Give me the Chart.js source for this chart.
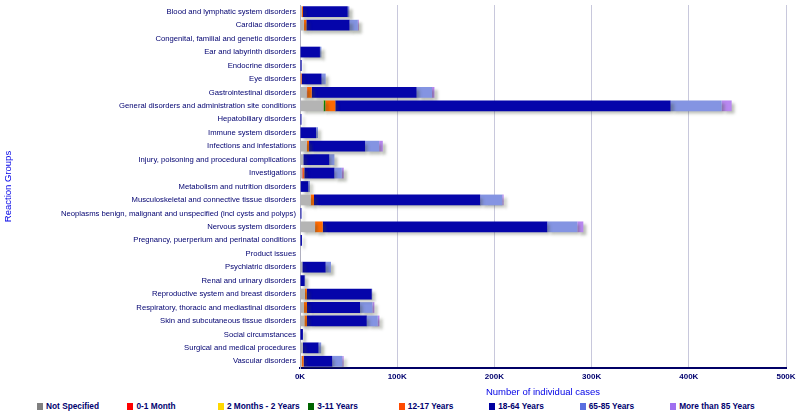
<!DOCTYPE html>
<html>
<head>
<meta charset="utf-8">
<script src="https://cdn.jsdelivr.net/npm/chart.js@4/dist/chart.umd.min.js"></script>
<style>
  body { margin: 0; background: #fff; }
  #wrap { position: absolute; left: 0; top: 0; width: 800px; height: 398px; }
  #legenda { position: absolute; left: 0; top: 401px; width: 800px; height: 16px; }
  .voce { position: absolute; top: 0; font: bold 8.3px "Liberation Sans", sans-serif; color: #00006e; white-space: nowrap; }
  .voce span { display: inline-block; width: 6px; height: 7px; margin-right: 3px; vertical-align: -1px; }
</style>
</head>
<body>
<div id="wrap"><canvas id="grafico"></canvas></div>
<div id="legenda"></div>
<script>
// categorie (reaction groups)
var categories = [
  'Blood and lymphatic system disorders',
  'Cardiac disorders',
  'Congenital, familial and genetic disorders',
  'Ear and labyrinth disorders',
  'Endocrine disorders',
  'Eye disorders',
  'Gastrointestinal disorders',
  'General disorders and administration site conditions',
  'Hepatobiliary disorders',
  'Immune system disorders',
  'Infections and infestations',
  'Injury, poisoning and procedural complications',
  'Investigations',
  'Metabolism and nutrition disorders',
  'Musculoskeletal and connective tissue disorders',
  'Neoplasms benign, malignant and unspecified (incl cysts and polyps)',
  'Nervous system disorders',
  'Pregnancy, puerperium and perinatal conditions',
  'Product issues',
  'Psychiatric disorders',
  'Renal and urinary disorders',
  'Reproductive system and breast disorders',
  'Respiratory, thoracic and mediastinal disorders',
  'Skin and subcutaneous tissue disorders',
  'Social circumstances',
  'Surgical and medical procedures',
  'Vascular disorders'
];

// valori (numero di casi)
var notSpecified = [1700, 4000, 0, 500, 0, 700, 6900, 24000, 0, 500, 6900, 3400, 2400, 700, 11000, 0, 15500, 0, 0, 2400, 500, 5100, 4100, 4500, 300, 3100, 1700];
var month0to1 = [0, 0, 0, 0, 0, 0, 500, 0, 0, 0, 0, 0, 800, 0, 0, 0, 0, 0, 0, 0, 0, 0, 0, 0, 0, 0, 0];
var months2to2y = [0, 0, 0, 0, 0, 0, 0, 300, 0, 0, 0, 0, 0, 0, 0, 0, 0, 0, 0, 0, 0, 0, 0, 0, 0, 0, 0];
var years3to11 = [0, 0, 0, 0, 0, 0, 0, 1700, 0, 0, 0, 0, 0, 0, 0, 0, 0, 0, 0, 0, 0, 0, 0, 0, 0, 0, 0];
var years12to17 = [1400, 2500, 0, 0, 0, 1000, 4600, 10300, 0, 0, 2400, 0, 1200, 0, 3400, 0, 7900, 0, 0, 0, 0, 2000, 3100, 2700, 0, 0, 2000];
var years18to64 = [46000, 44500, 0, 20000, 1700, 20500, 108000, 345000, 1500, 16000, 57700, 26800, 31000, 7800, 171000, 1500, 231000, 2000, 0, 24000, 4300, 66700, 54600, 61500, 2700, 16000, 29500];
var years65to85 = [1400, 8500, 0, 1500, 0, 4200, 15800, 52500, 0, 2000, 14400, 5200, 7600, 1700, 22700, 0, 30900, 0, 0, 5500, 500, 500, 12700, 11300, 0, 2700, 10300];
var over85 = [300, 1000, 0, 0, 0, 0, 2500, 10300, 0, 0, 3800, 0, 2000, 0, 1400, 0, 6200, 0, 0, 0, 0, 0, 2000, 1700, 0, 0, 1400];

var serieNomi = ['Not Specified', '0-1 Month', '2 Months - 2 Years', '3-11 Years', '12-17 Years', '18-64 Years', '65-85 Years', 'More than 85 Years'];
var serieDati = [notSpecified, month0to1, months2to2y, years3to11, years12to17, years18to64, years65to85, over85];
var serieColori = ['#b4b4b4', '#ff0000', '#ffd800', '#008a00', '#ff6a00', '#0505aa', '#8494e2', '#b888f0'];
var legendaColori = ['#808080', '#ff0000', '#ffd800', '#006400', '#ff4a00', '#0000a0', '#5a6ee0', '#a070f0'];

var xTicks = [0, 100000, 200000, 300000, 400000, 500000];

var datasets = [];
for (var i = 0; i < serieNomi.length; i++) {
  datasets.push({
    label: serieNomi[i],
    data: serieDati[i],
    backgroundColor: serieColori[i],
    borderWidth: 0,
    barPercentage: 0.8,
    categoryPercentage: 1
  });
}

// ombra leggera sotto le barre
var ombra = {
  id: 'ombra',
  beforeDatasetsDraw: function(chart) {
    var ctx = chart.ctx;
    ctx.save();
    ctx.shadowColor = 'rgba(60, 70, 50, 0.35)';
    ctx.shadowBlur = 3;
    ctx.shadowOffsetX = 3;
    ctx.shadowOffsetY = 3;
  },
  afterDatasetsDraw: function(chart) {
    chart.ctx.restore();
  }
};

var ctx = document.getElementById('grafico');
var chart = new Chart(ctx, {
  type: 'bar',
  data: {
    labels: categories,
    datasets: datasets
  },
  options: {
    indexAxis: 'y',
    responsive: true,
    maintainAspectRatio: false,
    animation: false,
    layout: { padding: { top: 5, right: 14, left: 0, bottom: 0 } },
    plugins: {
      legend: { display: false },
      tooltip: { enabled: false }
    },
    scales: {
      x: {
        stacked: true,
        min: 0,
        max: 500000,
        afterBuildTicks: function(scale) {
          scale.ticks = xTicks.map(function(v) { return { value: v }; });
        },
        afterFit: function(scale) { scale.height = 30; },
        grid: { color: '#c8c8dc', drawTicks: false },
        border: { color: '#000066', width: 2 },
        ticks: {
          padding: 4,
          color: '#00006e',
          font: { family: '"Liberation Sans", sans-serif', size: 8, weight: 'bold' },
          callback: function(v) { return (v / 1000) + 'K'; }
        },
        title: {
          display: true,
          text: 'Number of individual cases',
          color: '#0000e6',
          padding: { top: 0, bottom: 0 },
          font: { family: '"Liberation Sans", sans-serif', size: 9.5 }
        }
      },
      y: {
        stacked: true,
        afterFit: function(scale) {
          scale.width = 300;
          scale.paddingTop = 0;
          scale.paddingBottom = 0;
        },
        grid: { display: false, drawTicks: false },
        border: { color: '#b0b0c0', width: 1 },
        ticks: {
          padding: 4,
          autoSkip: false,
          color: '#000070',
          font: { family: '"Liberation Sans", sans-serif', size: 7.7 }
        },
        title: {
          display: true,
          text: 'Reaction Groups',
          color: '#0000e6',
          padding: { top: 3, bottom: 0 },
          font: { family: '"Liberation Sans", sans-serif', size: 9.5 }
        }
      }
    }
  },
  plugins: [ombra]
});

// legenda a passo fisso come nell'originale
var legenda = document.getElementById('legenda');
for (var j = 0; j < serieNomi.length; j++) {
  var voce = document.createElement('div');
  voce.className = 'voce';
  voce.style.left = (37 + j * 90.45) + 'px';
  voce.innerHTML = '<span style="background:' + legendaColori[j] + '"></span>' + serieNomi[j];
  legenda.appendChild(voce);
}
</script>
</body>
</html>
